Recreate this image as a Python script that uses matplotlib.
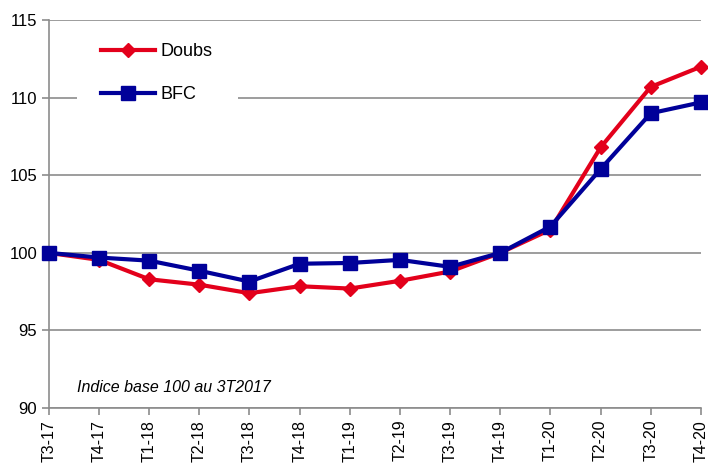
import matplotlib
matplotlib.use("Agg")
import matplotlib.pyplot as plt
from matplotlib.patches import Rectangle

quarters = ["T3-17", "T4-17", "T1-18", "T2-18", "T3-18", "T4-18", "T1-19",
            "T2-19", "T3-19", "T4-19", "T1-20", "T2-20", "T3-20", "T4-20"]
doubs = [100, 99.55, 98.3, 97.95, 97.4, 97.85, 97.7, 98.2, 98.8, 100,
         101.5, 106.8, 110.7, 112.0]
bfc = [100, 99.7, 99.5, 98.85, 98.15, 99.3, 99.35, 99.55, 99.1, 100,
       101.7, 105.4, 109.0, 109.7]

plt.rcParams['font.family'] = ['Liberation Sans', 'DejaVu Sans']
grey = '#8c8c8c'

fig = plt.figure(figsize=(7.08, 4.69), dpi=100)
ax = fig.add_axes([0.069, 0.130, 0.921, 0.827])

x = list(range(len(quarters)))
ax.plot(x, doubs, color='#e3001b', lw=3, marker='D', ms=7.5, label='Doubs', zorder=4)
ax.plot(x, bfc, color='#000099', lw=3, marker='s', ms=10, label='BFC', zorder=5)

ax.set_xlim(0, len(quarters) - 1)
ax.set_ylim(90, 115)
ax.set_yticks([90, 95, 100, 105, 110, 115])
ax.set_xticks(x)
ax.set_xticklabels(quarters, rotation=90, fontsize=11.5)
ax.tick_params(axis='y', labelsize=12, color=grey, length=5, width=1.2)
ax.tick_params(axis='x', color=grey, length=5, width=1.2)
ax.grid(axis='y', color=grey, lw=1.2)
ax.set_axisbelow(True)
for s in ['top', 'right']:
    ax.spines[s].set_visible(False)
for s in ['left', 'bottom']:
    ax.spines[s].set_color(grey)
    ax.spines[s].set_linewidth(1.2)
for ln in ax.lines:
    ln.set_clip_on(False)

# white box behind the legend (breaks the 110 gridline like the original)
ax.add_patch(Rectangle((0.043, 0.70), 0.247, 0.26, transform=ax.transAxes,
                       facecolor='white', edgecolor='none', zorder=1))

leg = ax.legend(loc='upper left', bbox_to_anchor=(0.0798, 0.940), fontsize=13,
                frameon=False, handlelength=3.0, labelspacing=1.42,
                borderpad=0, borderaxespad=0, handletextpad=0.28)

ax.text(0.043, 0.054, "Indice base 100 au 3T2017", transform=ax.transAxes,
        fontsize=11.5, style='italic', va='center')

fig.savefig("out.png", dpi=100)
